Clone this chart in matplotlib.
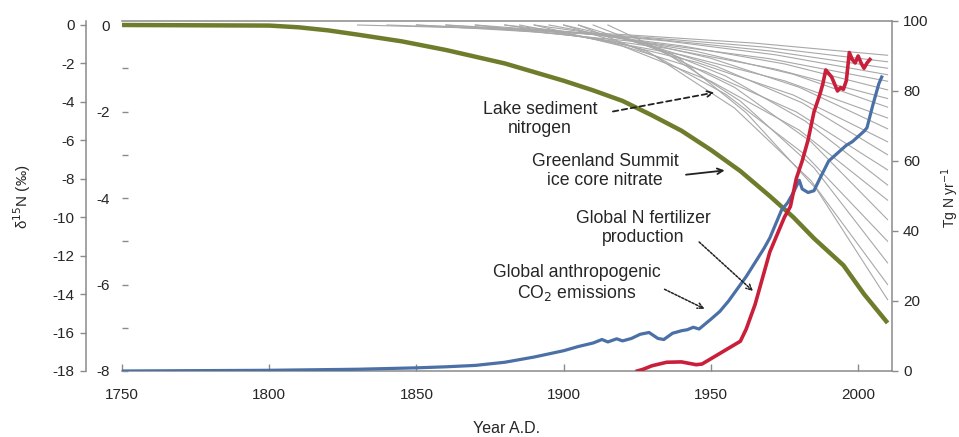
import matplotlib
matplotlib.use("Agg")
import matplotlib.pyplot as plt
from matplotlib.ticker import MultipleLocator

plt.rcParams['font.family'] = ['Liberation Sans', 'DejaVu Sans']

# ---------------- data ----------------
x_ticks = [1750, 1800, 1850, 1900, 1950, 2000]

# Greenland Summit ice core nitrate (outer left axis, -18..0)
green_years = [1750, 1800, 1810, 1820, 1830, 1845, 1860, 1880, 1890, 1900, 1910, 1920,
               1930, 1940, 1950, 1960, 1970, 1978, 1985, 1995, 2002, 2010]
green_vals = [0, -0.03, -0.12, -0.28, -0.5, -0.85, -1.3, -2.0, -2.45, -2.9, -3.4, -3.95,
              -4.7, -5.5, -6.5, -7.6, -8.9, -10.0, -11.1, -12.5, -14.0, -15.5]

# Lake sediment nitrogen records (inner axis, -8..0)
lake_years = [
    [1830, 1875, 1920, 1965, 2010],
    [1840, 1882, 1925, 1968, 2010],
    [1850, 1890, 1930, 1970, 2010],
    [1860, 1898, 1935, 1972, 2010],
    [1850, 1890, 1930, 1970, 2010],
    [1870, 1905, 1940, 1975, 2010],
    [1860, 1898, 1935, 1972, 2010],
    [1880, 1912, 1945, 1978, 2010],
    [1870, 1905, 1940, 1975, 2010],
    [1890, 1920, 1950, 1980, 2010],
    [1880, 1912, 1945, 1978, 2010],
    [1895, 1924, 1952, 1981, 2010],
    [1885, 1916, 1948, 1979, 2010],
    [1900, 1928, 1955, 1982, 2010],
    [1890, 1920, 1950, 1980, 2010],
    [1905, 1931, 1958, 1984, 2010],
    [1900, 1928, 1955, 1982, 2010],
    [1910, 1935, 1960, 1985, 2010],
    [1905, 1931, 1958, 1984, 2010],
    [1915, 1939, 1962, 1986, 2010],
]
lake_vals = [
    [0, -0.08, -0.22, -0.42, -0.7],
    [0, -0.10, -0.27, -0.51, -0.85],
    [0, -0.12, -0.32, -0.60, -1.0],
    [0, -0.14, -0.37, -0.69, -1.15],
    [0, -0.16, -0.42, -0.78, -1.3],
    [0, -0.18, -0.48, -0.90, -1.5],
    [0, -0.20, -0.54, -1.02, -1.7],
    [0, -0.23, -0.61, -1.14, -1.9],
    [0, -0.26, -0.69, -1.29, -2.15],
    [0, -0.29, -0.77, -1.44, -2.4],
    [0, -0.32, -0.86, -1.62, -2.7],
    [0, -0.36, -0.96, -1.80, -3.0],
    [0, -0.40, -1.07, -2.01, -3.35],
    [0, -0.44, -1.18, -2.22, -3.7],
    [0, -0.49, -1.30, -2.43, -4.05],
    [0, -0.54, -1.44, -2.70, -4.5],
    [0, -0.60, -1.60, -3.00, -5.0],
    [0, -0.66, -1.76, -3.30, -5.5],
    [0, -0.72, -1.92, -3.60, -6.0],
    [0, -0.76, -2.03, -3.81, -6.35],
]

# Global N fertilizer production (right axis, 0..100)
fert_years = [1925, 1927, 1930, 1935, 1940, 1945, 1947, 1950, 1955, 1960, 1962, 1965,
              1968, 1970, 1973, 1975, 1977, 1979, 1981, 1983, 1985, 1987, 1988, 1989,
              1990, 1991, 1992, 1993, 1994, 1995, 1996, 1997, 1998, 1999, 2000, 2001,
              2002, 2003, 2004]
fert_vals = [0, 0.5, 1.5, 2.5, 2.6, 1.8, 2.0, 3.5, 6, 8.5, 12, 19,
             28, 34, 40, 44, 47, 55, 60, 66, 74, 79, 82, 86,
             85, 84, 82, 80, 81, 80.5, 83, 91, 89, 88, 90, 88,
             86.5, 88, 89]

# Global anthropogenic CO2 emissions (right axis, 0..100)
co2_years = [1750, 1800, 1830, 1850, 1860, 1870, 1880, 1890, 1900, 1905, 1910, 1913,
             1915, 1918, 1920, 1923, 1926, 1929, 1932, 1934, 1937, 1940, 1942, 1944,
             1946, 1950, 1953, 1956, 1959, 1962, 1965, 1968, 1970, 1972, 1974, 1976,
             1978, 1980, 1981, 1983, 1985, 1987, 1990, 1992, 1994, 1996, 1998, 2000,
             2002, 2003, 2005, 2007, 2008]
co2_vals = [0, 0.2, 0.5, 0.9, 1.2, 1.6, 2.5, 4, 5.8, 7, 8, 9,
            8.3, 9.2, 8.6, 9.3, 10.5, 11, 9.3, 9, 10.8, 11.5, 11.8, 12.5,
            12, 14.8, 17, 20, 23.5, 27, 31, 35, 38, 42, 46, 48,
            51, 54.5, 52, 51, 51.5, 55, 60, 61.5, 63, 64.5, 65.5, 67,
            68.5, 69.5, 76, 82, 84]

# ---------------- figure ----------------
W, H = 959, 437
fig = plt.figure(figsize=(W / 100, H / 100), dpi=100)
ax = fig.add_axes([122 / W, 66 / H, 770 / W, 350 / H])
axL = ax.twinx()
axR = ax.twinx()

spine_c = '#8a8a8a'
text_c = '#262626'
tick_fs = 11

# inner (lake) axis
ax.set_xlim(1750, 2011.5)
ax.set_ylim(-8, 0.0925)
for yv, xv in zip(lake_vals, lake_years):
    ax.plot(xv, yv, color='#a8a8a8', lw=0.8, zorder=1)
ax.yaxis.set_major_locator(MultipleLocator(2))
ax.yaxis.set_minor_locator(MultipleLocator(1))
ax.tick_params(axis='y', which='both', direction='in', length=4, width=1,
               color=spine_c, pad=8.5, labelsize=tick_fs, labelcolor=text_c)
ax.set_yticks([0, -2, -4, -6, -8])
ax.set_yticklabels(['0', '-2', '-4', '-6', '-8'])
ax.set_xticks(x_ticks)
ax.tick_params(axis='x', direction='in', length=5, width=1, color=spine_c,
               pad=12, labelsize=tick_fs, labelcolor=text_c)
ax.spines['left'].set_visible(False)
ax.spines['right'].set_visible(False)
for s in ['top', 'bottom']:
    ax.spines[s].set_color(spine_c)
    ax.spines[s].set_linewidth(1.1)
ax.set_xlabel('Year A.D.', fontsize=11.5, color=text_c, labelpad=14)

# outer left axis (Greenland)
axL.yaxis.tick_left()
axL.yaxis.set_label_position('left')
axL.set_ylim(-18, 0.208)
axL.plot(green_years, green_vals, color='#6e7d2c', lw=3.2, solid_capstyle='butt',
         solid_joinstyle='round', zorder=2)
axL.set_yticks(list(range(0, -19, -2)))
axL.set_yticklabels([str(v) for v in range(0, -19, -2)])
axL.spines['left'].set_position(('outward', 26))
for s in ['top', 'bottom', 'right']:
    axL.spines[s].set_visible(False)
axL.spines['left'].set_color(spine_c)
axL.spines['left'].set_linewidth(1.1)
axL.tick_params(axis='y', direction='out', length=4, width=1, color=spine_c,
                pad=4, labelsize=tick_fs, labelcolor=text_c)

# right axis (fertilizer / CO2)
axR.set_ylim(0, 100)
axR.plot(co2_years, co2_vals, color='#4a70a6', lw=2.3, zorder=3)
axR.plot(fert_years, fert_vals, color='#c91f3a', lw=2.6, zorder=4)
axR.set_yticks([0, 20, 40, 60, 80, 100])
for s in ['top', 'bottom', 'left']:
    axR.spines[s].set_visible(False)
axR.spines['right'].set_color(spine_c)
axR.spines['right'].set_linewidth(1.1)
axR.tick_params(axis='y', direction='out', length=4, width=1, color=spine_c,
                pad=4, labelsize=tick_fs, labelcolor=text_c)

# annotations (in right-axis data coordinates)
fs = 12.7
ls = 1.13
axR.annotate('', xy=(1952.1, 79.7), xytext=(1915.8, 74.0),
             arrowprops=dict(arrowstyle='->', color='#222222', lw=1.3, linestyle=(0, (3, 2))))
axR.text(1892.0, 72.0, 'Lake sediment\nnitrogen', ha='center', va='center',
         fontsize=fs, color=text_c, linespacing=ls)
axR.annotate('', xy=(1955.6, 57.4), xytext=(1940.6, 56.0),
             arrowprops=dict(arrowstyle='->', color='#222222', lw=1.3))
axR.text(1914.1, 57.1, 'Greenland Summit\nice core nitrate', ha='center', va='center',
         fontsize=fs, color=text_c, linespacing=ls)
axR.annotate('', xy=(1965.0, 22.3), xytext=(1945.3, 37.4),
             arrowprops=dict(arrowstyle='->', color='#222222', lw=1.1, linestyle=(0, (1.5, 1))))
axR.text(1927.0, 40.9, 'Global N fertilizer\nproduction', ha='center', va='center',
         fontsize=fs, color=text_c, linespacing=ls)
axR.annotate('', xy=(1948.7, 17.4), xytext=(1933.4, 23.7),
             arrowprops=dict(arrowstyle='->', color='#222222', lw=1.1, linestyle=(0, (1.5, 1))))
axR.text(1904.6, 25.1, 'Global anthropogenic\nCO$_2$ emissions', ha='center', va='center',
         fontsize=fs, color=text_c, linespacing=ls)

# axis labels
fig.text(22 / W, 1 - 197 / H, 'δ$^{15}$N (‰)', rotation=90, ha='center', va='center',
         fontsize=11, color=text_c)
fig.text(950 / W, 1 - 197 / H, 'Tg N yr$^{-1}$', rotation=90, ha='center', va='center',
         fontsize=10, color=text_c)

fig.savefig('out.png', dpi=100, facecolor='white')
